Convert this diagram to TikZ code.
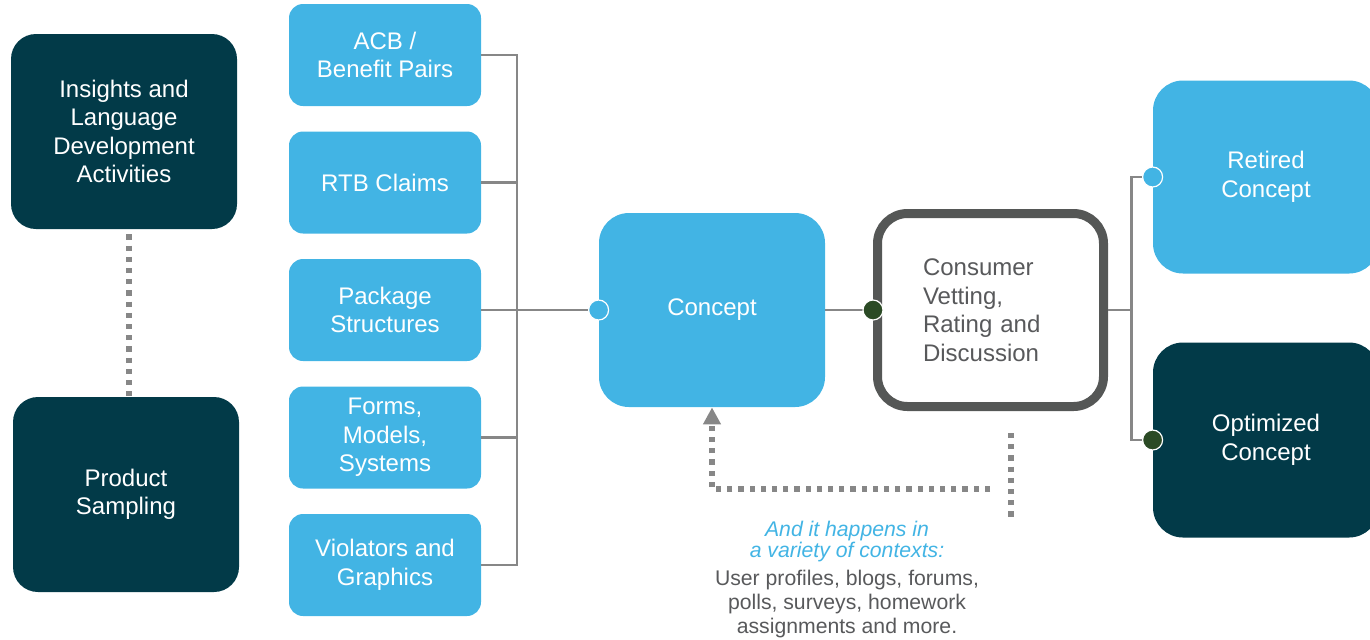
\documentclass[tikz,border=0pt]{standalone}
\usepackage{fontspec}
\setmainfont{Liberation Sans}
\usetikzlibrary{positioning,arrows.meta}

\definecolor{skyblue}{HTML}{42B4E4}
\definecolor{deepteal}{HTML}{023A48}
\definecolor{wire}{HTML}{878787}
\definecolor{frame}{HTML}{555756}
\definecolor{moss}{HTML}{2B4A25}
\definecolor{slate}{HTML}{58595B}

\tikzset{
  boxfont/.style={font=\fontsize{12}{14.25}\selectfont},
  darkbox/.style={boxfont, fill=deepteal, text=white, rounded corners=12.5pt,
    minimum width=113pt, minimum height=97.5pt, align=center},
  tile/.style={boxfont, fill=skyblue, text=white, rounded corners=7pt,
    minimum width=96pt, minimum height=51pt, align=center},
  bigtile/.style={boxfont, fill=skyblue, text=white, rounded corners=15pt,
    minimum width=113pt, minimum height=97pt, align=center},
  vetbox/.style={boxfont, draw=frame, line width=4.5pt, fill=white, text=slate,
    rounded corners=15pt, minimum width=113pt, minimum height=96.5pt,
    align=left, text width=67.5pt},
  link/.style={draw=wire, line width=1.4pt},
  dots/.style={draw=wire, line width=2.6pt, dash pattern=on 2.6pt off 3pt},
  bluedot/.style={circle, fill=skyblue, draw=white, line width=0.6pt,
    minimum size=10pt, inner sep=0pt},
  greendot/.style={circle, fill=moss, draw=white, line width=0.6pt,
    minimum size=10pt, inner sep=0pt},
}

\begin{document}
\begin{tikzpicture}[x=0.5pt, y=-0.5pt, on grid]
\useasboundingbox (0,0) rectangle (1370,639);

% left column
\node[darkbox] (insights) at (124,131.5) {Insights and\\Language\\Development\\Activities};
\node[darkbox, below=181.5pt of insights, xshift=1pt] (sampling) {Product\\Sampling};

% concept inputs
\node[tile] (acb) at (385,55) {ACB /\\Benefit Pairs};
\node[tile, below=63.75pt of acb] (rtb) {RTB Claims};
\node[tile, below=63.75pt of rtb] (pkg) {Package\\Structures};
\node[tile, below=63.75pt of pkg] (fms) {Forms,\\Models,\\Systems};
\node[tile, below=63.75pt of fms] (vio) {Violators and\\Graphics};

% middle
\node[bigtile] (concept) at (712,310) {Concept};
\node[vetbox, right=139.25pt of concept] (vetting) {Consumer\\Vetting,\\Rating and\\Discussion};

% outcomes
\node[bigtile, minimum height=96.5pt] (retired) at (1266,177) {Retired\\Concept};
\node[darkbox, rounded corners=15pt, below=131.5pt of retired] (optimized) {Optimized\\Concept};

% bus into concept
\coordinate (bus) at (517,0);
\draw[link] (acb.east) -| (bus |- vio.east) -- (vio.east);
\foreach \n in {rtb,pkg,fms}
  \draw[link] (\n.east) -- (\n.east -| bus);
\draw[link] (pkg.east) -- (concept.west);
\draw[link] (concept.east) -- (vetting.west);

% fork to outcomes
\draw[link] (vetting.east) -- ++(23.5,0) coordinate (fork);
\draw[link] (retired.west) -| (fork) |- (optimized.west);

\node[bluedot] at (concept.west) {};
\node[greendot] at (vetting.west) {};
\node[bluedot] at (retired.west) {};
\node[greendot] at (optimized.west) {};

% dotted feedback
\coordinate (gap) at (129,0);
\draw[dots] (gap |- insights.south) ++(0,5) -- (gap |- sampling.north);
\coordinate (fbstart) at (990,489);
\coordinate (fbtop) at (1011,433);
\coordinate (fbend) at (1011,522);
\draw[dots, -{Triangle[width=8.5pt,length=8.5pt]}] (fbstart) -| (concept.south);
\draw[dots] (fbtop) -- (fbend);

% context note
\node[align=center, text=skyblue, font=\fontsize{10.6}{10.5}\selectfont\itshape] (ctx) at (847,542)
  {And it happens in\\a variety of contexts:};
\node[align=center, text=slate, font=\fontsize{10.6}{12}\selectfont, below=31.25pt of ctx] (media)
  {User profiles, blogs, forums,\\polls, surveys, homework\\assignments and more.};
\end{tikzpicture}
\end{document}
